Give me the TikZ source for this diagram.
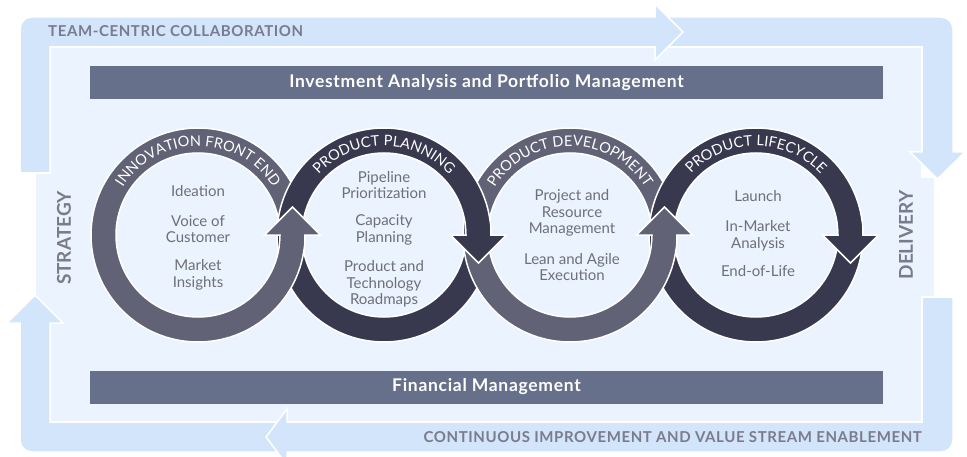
\documentclass[tikz,border=0pt]{standalone}
\usepackage{fontspec}
\setmainfont{Lato}
\usetikzlibrary{calc,decorations.text}
\definecolor{bandcol}{HTML}{D3E5FA}
\definecolor{innercol}{HTML}{EAF3FE}
\definecolor{barcol}{HTML}{67708A}
\definecolor{lightring}{HTML}{626276}
\definecolor{darkring}{HTML}{38384F}
\definecolor{labgray}{HTML}{7A7B8C}
\definecolor{txtgray}{HTML}{6F6F78}
\newcommand\ringfont{\fontsize{14.5}{14.5}\selectfont\color{white}}
\tikzset{
  band/.style={fill=bandcol, draw=white, line width=1.5pt, line join=miter},
  inner/.style={fill=innercol, draw=white, line width=1.5pt},
  bar/.style={fill=barcol, text=white, minimum width=793pt, minimum height=33pt, inner sep=0pt, font=\bfseries\fontsize{17.5}{19}\selectfont\addfontfeature{LetterSpace=4}},
  lab/.style={text=labgray, inner sep=0pt, font=\bfseries\fontsize{15}{16}\selectfont\addfontfeature{LetterSpace=4}},
  biglab/.style={text=labgray, inner sep=0pt, font=\bfseries\fontsize{19}{20}\selectfont},
  ringL/.style={fill=lightring, draw=white, line width=1.5pt, even odd rule},
  ringD/.style={fill=darkring, draw=white, line width=1.5pt, even odd rule},
  headL/.style={fill=lightring, draw=white, line width=1.5pt},
  headD/.style={fill=darkring, draw=white, line width=1.5pt},
  intext/.style={text=txtgray, align=center, inner sep=0pt, font=\fontsize{15}{16.5}\selectfont},
}
\begin{document}
\begin{tikzpicture}[x=1pt,y=1pt]
\useasboundingbox (0,0) rectangle (967,456);
% inner region
\path[inner] (35,133) -- (35,283) -- (50,283) -- (50,409) -- (922,409) -- (922,279) -- (935,279) -- (935,159) -- (922,159) -- (922,34) -- (50,34) -- (50,133) -- cycle;
% left arrow (strategy)
\path[band] (292,34) -- (50,34) -- (50,133) -- (63,133) -- (35,161) -- (7,133) -- (20,133) -- (20,16) arc[start angle=180,end angle=270,radius=12] -- (292,4) -- cycle;
% bottom arrow
\path[band] (922,159) -- (953,159) -- (953,16) arc[start angle=0,end angle=-90,radius=12] -- (287,4) -- (287,-9) -- (266,19) -- (287,47) -- (287,34) -- (922,34) -- cycle;
% right arrow (delivery)
\path[band] (650,439) -- (941,439) arc[start angle=90,end angle=0,radius=12] -- (953,304) -- (965,304) -- (937.5,277) -- (910,304) -- (922,304) -- (922,409) -- (650,409) -- cycle;
% top arrow
\path[band] (20,283) -- (20,427) arc[start angle=180,end angle=90,radius=12] -- (655,439) -- (655,452) -- (683,424) -- (655,396) -- (655,409) -- (50,409) -- (50,283) -- cycle;

\node[lab, anchor=base west] (team) at (48,419) {TEAM-CENTRIC COLLABORATION};
\node[lab, anchor=base east] (cont) at (922,14) {CONTINUOUS IMPROVEMENT AND VALUE STREAM ENABLEMENT};
\node[biglab, rotate=90] (strat) at (64,218) {STRATEGY};
\node[biglab, rotate=90] (deliv) at (906,221) {DELIVERY};

\node[bar] (invest) at (486.5,373.5) {Investment Analysis and Portfolio Management};
\node[bar] (fin) at (486.5,69) {Financial Management};

\coordinate (c1) at (198,221);
\coordinate (c2) at (384,221);
\coordinate (c3) at (570,221);
\coordinate (c4) at (756,221);

% dark rings
\path[ringD] (c2) circle[radius=107] (c2) circle[radius=82];
\path[ringD] (c4) circle[radius=107] (c4) circle[radius=82];
% light rings
\path[ringL] (c1) circle[radius=107] (c1) circle[radius=82];
\path[ringL] (c3) circle[radius=107] (c3) circle[radius=82];
% light ring texts
\path[decorate, decoration={text along path, text align=center, text={|\ringfont|INNOVATION FRONT END}}] ($(c1)+(178:89)$) arc[start angle=178, end angle=2, radius=89];
\path[decorate, decoration={text along path, text align=center, text={|\ringfont|PRODUCT DEVELOPMENT}}] ($(c3)+(178:89)$) arc[start angle=178, end angle=2, radius=89];
% dark rings on top in upper half
\begin{scope}
\clip (260,221) rectangle (880,340);
\path[ringD] (c2) circle[radius=107] (c2) circle[radius=82];
\path[ringD] (c4) circle[radius=107] (c4) circle[radius=82];
\end{scope}
\path[decorate, decoration={text along path, text align=center, text={|\ringfont|PRODUCT PLANNING}}] ($(c2)+(178:89)$) arc[start angle=178, end angle=2, radius=89];
\path[decorate, decoration={text along path, text align=center, text={|\ringfont|PRODUCT LIFECYCLE}}] ($(c4)+(178:89)$) arc[start angle=178, end angle=2, radius=89];

% heads
\path[headL] ($(c1)+(66.5,0)$) -- ($(c1)+(94.5,28)$) -- ($(c1)+(122.5,0)$) -- cycle;
\fill[lightring] ($(c1)+(-8:83)$) arc[start angle=-8,end angle=1,radius=83] -- ($(c1)+(1:106)$) arc[start angle=1,end angle=-8,radius=106] -- cycle;
\path[headD] ($(c2)+(66.5,0)$) -- ($(c2)+(94.5,-28)$) -- ($(c2)+(122.5,0)$) -- cycle;
\fill[darkring] ($(c2)+(-1:83)$) arc[start angle=-1,end angle=8,radius=83] -- ($(c2)+(8:106)$) arc[start angle=8,end angle=-1,radius=106] -- cycle;
\path[headL] ($(c3)+(66.5,0)$) -- ($(c3)+(94.5,28)$) -- ($(c3)+(122.5,0)$) -- cycle;
\fill[lightring] ($(c3)+(-8:83)$) arc[start angle=-8,end angle=1,radius=83] -- ($(c3)+(1:106)$) arc[start angle=1,end angle=-8,radius=106] -- cycle;
\path[headD] ($(c4)+(66.5,0)$) -- ($(c4)+(94.5,-28)$) -- ($(c4)+(122.5,0)$) -- cycle;
\fill[darkring] ($(c4)+(-1:83)$) arc[start angle=-1,end angle=8,radius=83] -- ($(c4)+(8:106)$) arc[start angle=8,end angle=-1,radius=106] -- cycle;

% inner texts
\node[intext] (t11) at (198,265) {Ideation};
\node[intext] (t12) at (198,227) {Voice of\\Customer};
\node[intext] (t13) at (198,181) {Market\\Insights};
\node[intext] (t21) at (384,271) {Pipeline\\Prioritization};
\node[intext] (t22) at (384,226) {Capacity\\Planning};
\node[intext] (t23) at (384,172) {Product and\\Technology\\Roadmaps};
\node[intext] (t31) at (572,243) {Project and\\Resource\\Management};
\node[intext] (t32) at (572,189) {Lean and Agile\\Execution};
\node[intext] (t41) at (758,260) {Launch};
\node[intext] (t42) at (758,220) {In-Market\\Analysis};
\node[intext] (t43) at (758,185) {End-of-Life};
\end{tikzpicture}
\end{document}
